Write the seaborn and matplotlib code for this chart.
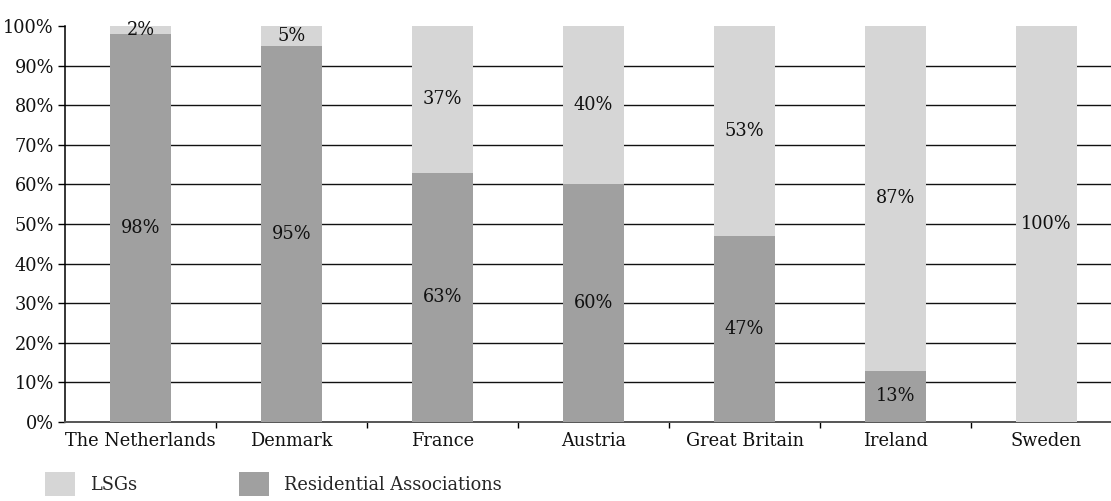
import matplotlib
matplotlib.use("Agg")
import matplotlib.pyplot as plt
import seaborn as sns
import pandas as pd
from matplotlib.patches import Patch

countries = ["The Netherlands", "Denmark", "France", "Austria",
             "Great Britain", "Ireland", "Sweden"]
residential = [98, 95, 63, 60, 47, 13, 0]
lsgs = [2, 5, 37, 40, 53, 87, 100]
y_ticks = [0, 10, 20, 30, 40, 50, 60, 70, 80, 90, 100]

c_lsg = "#d6d6d6"
c_res = "#a0a0a0"
FS = 12.8

sns.set_theme(style="white")
plt.rcParams["font.family"] = ["DejaVu Serif"]
plt.rcParams["font.size"] = FS

df = pd.DataFrame({"country": countries, "res": residential, "lsg": lsgs})
df["total"] = df["res"] + df["lsg"]

fig = plt.figure(figsize=(11.11, 5.01), dpi=100)
W, H = 1111, 501
left, right, bottom, top = 65, 1122, 422, 26
ax = fig.add_axes([left / W, 1 - bottom / H, (right - left) / W, (bottom - top) / H])

sns.barplot(data=df, x="country", y="total", color=c_lsg, width=0.4,
            saturation=1, linewidth=0, ax=ax, zorder=3)
sns.barplot(data=df, x="country", y="res", color=c_res, width=0.4,
            saturation=1, linewidth=0, ax=ax, zorder=4)

ax.set_ylim(0, 100)
ax.set_xlim(-0.5, len(countries) - 0.5)
ax.set_yticks(y_ticks)
ax.set_yticklabels([f"{v}%" for v in y_ticks])
ax.set_xlabel("")
ax.set_ylabel("")

# horizontal gridlines between the axis baseline and the top
ax.yaxis.grid(True, color="#111111", linewidth=1.0, zorder=0)
ax.set_axisbelow(True)
gl = ax.get_ygridlines()
gl[0].set_visible(False)
gl[-1].set_visible(False)

for s in ["top", "right"]:
    ax.spines[s].set_visible(False)
ax.spines["left"].set_color("black")
ax.spines["left"].set_linewidth(1.1)
ax.spines["bottom"].set_color("#555555")
ax.spines["bottom"].set_linewidth(1.4)

# category ticks sit between the groups
ax.set_xticks([i for i in range(len(countries))])
ax.set_xticklabels(countries)
ax.tick_params(axis="x", length=0, pad=7)
ax.set_xticks([i + 0.5 for i in range(len(countries) - 1)], minor=True)
ax.tick_params(axis="x", which="minor", length=4, width=1, color="black",
               direction="out", bottom=True)
ax.tick_params(axis="y", length=5, width=1, color="black", left=True,
               direction="out", pad=3)
for lab in ax.get_xticklabels() + ax.get_yticklabels():
    lab.set_fontsize(FS)
    lab.set_color("#111111")

# value labels centred in each segment
for i, (r, l) in enumerate(zip(residential, lsgs)):
    if r > 0:
        ax.text(i, r / 2, f"{r}%", ha="center", va="center",
                fontsize=FS, color="#111111", zorder=6)
    if l > 0:
        ax.text(i, r + l / 2, f"{l}%", ha="center", va="center",
                fontsize=FS, color="#111111", zorder=6)

handles = [Patch(facecolor=c_lsg, edgecolor="none", label="LSGs"),
           Patch(facecolor=c_res, edgecolor="none", label="Residential Associations")]
fig.legend(handles=handles, loc="lower left", bbox_to_anchor=(29 / W, -11 / H),
           ncol=2, frameon=False, fontsize=FS, handlelength=1.68,
           handleheight=1.68, handletextpad=0.84, columnspacing=5.75)

fig.savefig("out.png", dpi=100)
